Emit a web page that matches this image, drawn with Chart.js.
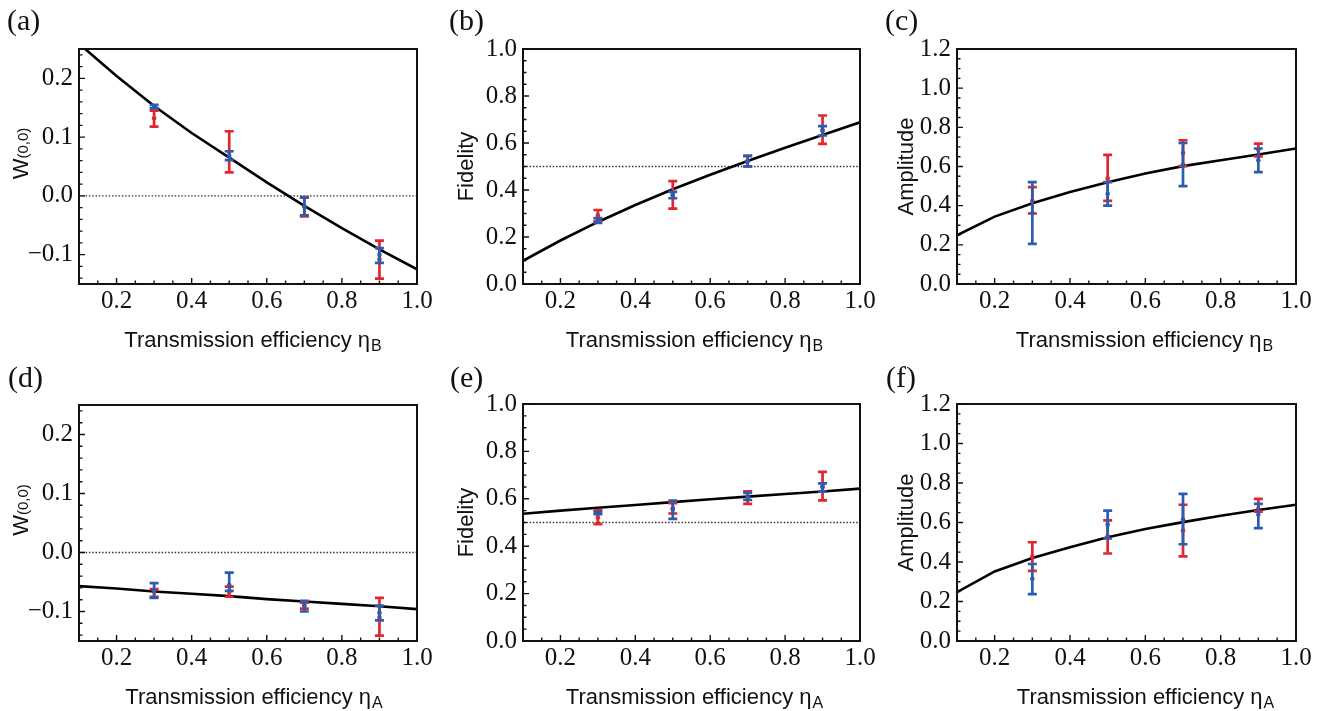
<!DOCTYPE html>
<html><head><meta charset="utf-8">
<script src="https://cdn.jsdelivr.net/npm/chart.js@4.4.0/dist/chart.umd.min.js"></script>
<style>
html,body{margin:0;padding:0;background:#fff;}
#wrap{position:relative;width:1326px;height:711px;overflow:hidden;background:#fff;}
canvas{position:absolute;}
</style></head><body><div id="wrap">
<canvas id="pa" style="left:0px;top:0px" width="442" height="355"></canvas>
<canvas id="pb" style="left:442px;top:0px" width="442" height="355"></canvas>
<canvas id="pc" style="left:884px;top:0px" width="442" height="355"></canvas>
<canvas id="pd" style="left:0px;top:355px" width="442" height="356"></canvas>
<canvas id="pe" style="left:442px;top:355px" width="442" height="356"></canvas>
<canvas id="pf" style="left:884px;top:355px" width="442" height="356"></canvas>
</div>
<script>
// ---------- data ----------
const expEta = [0.3, 0.5, 0.7, 0.9];
const theoryEta = [0.1, 0.2, 0.3, 0.4, 0.5, 0.6, 0.7, 0.8, 0.9, 1.0];

const xTicks = [0.2, 0.4, 0.6, 0.8, 1.0];
const xTickLabels = ["0.2", "0.4", "0.6", "0.8", "1.0"];
const wTicks = [-0.1, 0.0, 0.1, 0.2];
const wTickLabels = ["\u22120.1", "0.0", "0.1", "0.2"];
const fTicks = [0.0, 0.2, 0.4, 0.6, 0.8, 1.0];
const fTickLabels = ["0.0", "0.2", "0.4", "0.6", "0.8", "1.0"];
const ampTicks = [0.0, 0.2, 0.4, 0.6, 0.8, 1.0, 1.2];
const ampTickLabels = ["0.0", "0.2", "0.4", "0.6", "0.8", "1.0", "1.2"];

// (a) W(0,0) vs eta_B
const aTheory = [0.259, 0.204, 0.153, 0.107, 0.065, 0.023, -0.017, -0.055, -0.091, -0.125];
const aRedMid = [0.132, 0.075, -0.018, -0.108];
const aRedLo  = [0.118, 0.040, -0.035, -0.141];
const aRedHi  = [0.145, 0.110, -0.002, -0.076];
const aBlueMid = [0.152, 0.068, -0.018, -0.100];
const aBlueLo  = [0.149, 0.061, -0.033, -0.114];
const aBlueHi  = [0.155, 0.076, -0.003, -0.089];

// (b) Fidelity vs eta_B
const bTheory = [0.099, 0.185, 0.264, 0.336, 0.403, 0.465, 0.523, 0.580, 0.634, 0.688];
const bRedMid = [0.292, 0.380, 0.522, 0.655];
const bRedLo  = [0.268, 0.321, 0.500, 0.596];
const bRedHi  = [0.315, 0.438, 0.545, 0.717];
const bBlueMid = [0.270, 0.378, 0.522, 0.652];
const bBlueLo  = [0.260, 0.365, 0.500, 0.632];
const bBlueHi  = [0.280, 0.392, 0.545, 0.672];

// (c) Amplitude vs eta_B
const cTheory = [0.249, 0.344, 0.412, 0.470, 0.520, 0.564, 0.602, 0.632, 0.661, 0.692];
const cRedMid = [0.425, 0.539, 0.669, 0.685];
const cRedLo  = [0.360, 0.424, 0.602, 0.652];
const cRedHi  = [0.495, 0.659, 0.734, 0.717];
const cBlueMid = [0.362, 0.461, 0.610, 0.632];
const cBlueLo  = [0.205, 0.400, 0.500, 0.571];
const cBlueHi  = [0.520, 0.520, 0.720, 0.692];

// (d) W(0,0) vs eta_A
const dTheory = [-0.057, -0.061, -0.066, -0.070, -0.074, -0.079, -0.083, -0.087, -0.091, -0.096];
const dRedMid = [-0.066, -0.067, -0.090, -0.110];
const dRedLo  = [-0.075, -0.075, -0.095, -0.141];
const dRedHi  = [-0.062, -0.058, -0.085, -0.077];
const dBlueMid = [-0.065, -0.055, -0.090, -0.102];
const dBlueLo  = [-0.077, -0.065, -0.100, -0.115];
const dBlueHi  = [-0.052, -0.034, -0.082, -0.090];

// (e) Fidelity vs eta_A
const eTheory = [0.537, 0.550, 0.562, 0.574, 0.586, 0.598, 0.609, 0.620, 0.631, 0.643];
const eRedMid = [0.521, 0.560, 0.605, 0.655];
const eRedLo  = [0.493, 0.538, 0.579, 0.593];
const eRedHi  = [0.552, 0.582, 0.631, 0.714];
const eBlueMid = [0.540, 0.555, 0.607, 0.648];
const eBlueLo  = [0.535, 0.515, 0.595, 0.630];
const eBlueHi  = [0.545, 0.592, 0.625, 0.665];

// (f) Amplitude vs eta_A
const fTheory = [0.247, 0.352, 0.420, 0.475, 0.525, 0.567, 0.602, 0.634, 0.663, 0.690];
const fRedMid = [0.428, 0.530, 0.560, 0.670];
const fRedLo  = [0.355, 0.443, 0.428, 0.655];
const fRedHi  = [0.500, 0.611, 0.690, 0.720];
const fBlueMid = [0.315, 0.589, 0.615, 0.640];
const fBlueLo  = [0.237, 0.520, 0.490, 0.572];
const fBlueHi  = [0.390, 0.660, 0.745, 0.694];

// ---------- styling ----------
const RED = "#e1262e";
const BLUE = "#2c5caf";
const SERIF = '"Liberation Serif", "Times New Roman", serif';
const SANS = '"Liberation Sans", Arial, sans-serif';

const panels = [
  {id:"pa", tag:"(a)", yT:"W", yS:"(0,0)", xS:"B", th:aTheory, rm:aRedMid, rl:aRedLo, rh:aRedHi, bm:aBlueMid, bl:aBlueLo, bh:aBlueHi,
   ymin:-0.15, ymax:0.25, yt:wTicks, yl:wTickLabels, ymStep:0.02, ref:0.0,
   L:79, T:49, R:25, B:71, tagX:7, tagY:30, yTx:-57, yTy:-13, xTx:5},
  {id:"pb", tag:"(b)", yT:"Fidelity", yS:"", xS:"B", th:bTheory, rm:bRedMid, rl:bRedLo, rh:bRedHi, bm:bBlueMid, bl:bBlueLo, bh:bBlueHi,
   ymin:0, ymax:1.0, yt:fTicks, yl:fTickLabels, ymStep:0.05, ref:0.5,
   L:81, T:49, R:24, B:71, tagX:7, tagY:30, yTx:-56, yTy:0, xTx:3},
  {id:"pc", tag:"(c)", yT:"Amplitude", yS:"", xS:"B", th:cTheory, rm:cRedMid, rl:cRedLo, rh:cRedHi, bm:cBlueMid, bl:cBlueLo, bh:cBlueHi,
   ymin:0, ymax:1.2, yt:ampTicks, yl:ampTickLabels, ymStep:0.05, ref:null,
   L:73, T:49, R:30, B:71, tagX:1, tagY:30, yTx:-50, yTy:0, xTx:18},
  {id:"pd", tag:"(d)", yT:"W", yS:"(0,0)", xS:"A", th:dTheory, rm:dRedMid, rl:dRedLo, rh:dRedHi, bm:dBlueMid, bl:dBlueLo, bh:dBlueHi,
   ymin:-0.15, ymax:0.25, yt:wTicks, yl:wTickLabels, ymStep:0.02, ref:0.0,
   L:79, T:50, R:25, B:70, tagX:8, tagY:32, yTx:-57, yTy:-13, xTx:6},
  {id:"pe", tag:"(e)", yT:"Fidelity", yS:"", xS:"A", th:eTheory, rm:eRedMid, rl:eRedLo, rh:eRedHi, bm:eBlueMid, bl:eBlueLo, bh:eBlueHi,
   ymin:0, ymax:1.0, yt:fTicks, yl:fTickLabels, ymStep:0.05, ref:0.5,
   L:81, T:49, R:24, B:70, tagX:8, tagY:32, yTx:-56, yTy:0, xTx:3},
  {id:"pf", tag:"(f)", yT:"Amplitude", yS:"", xS:"A", th:fTheory, rm:fRedMid, rl:fRedLo, rh:fRedHi, bm:fBlueMid, bl:fBlueLo, bh:fBlueHi,
   ymin:0, ymax:1.2, yt:ampTicks, yl:ampTickLabels, ymStep:0.05, ref:null,
   L:73, T:49, R:30, B:70, tagX:2, tagY:32, yTx:-50, yTy:0, xTx:19}
];

// ---------- plugins ----------
const errorBarPlugin = {
  id: "errbars",
  afterDatasetDraw(chart, args) {
    const ds = chart.data.datasets[args.index];
    if (!ds.errLo) return;
    const ctx = chart.ctx, xs = chart.scales.x, ys = chart.scales.y;
    ctx.save();
    ctx.strokeStyle = ds.borderColor;
    ctx.lineWidth = 2.7;
    ctx.lineCap = "butt";
    for (let i = 0; i < ds.data.length; i++) {
      const px = xs.getPixelForValue(ds.data[i].x);
      const lo = ys.getPixelForValue(ds.errLo[i]);
      const hi = ys.getPixelForValue(ds.errHi[i]);
      ctx.beginPath();
      ctx.moveTo(px, lo); ctx.lineTo(px, hi);
      ctx.moveTo(px - 4.5, lo); ctx.lineTo(px + 4.5, lo);
      ctx.moveTo(px - 4.5, hi); ctx.lineTo(px + 4.5, hi);
      ctx.stroke();
      const pm = ys.getPixelForValue(ds.data[i].y);
      ctx.beginPath();
      ctx.fillStyle = ds.borderColor;
      ctx.arc(px, pm, 2.3, 0, Math.PI * 2);
      ctx.fill();
    }
    ctx.restore();
  }
};

const framePlugin = {
  id: "frame",
  afterDraw(chart) {
    const p = chart.options.plugins.frame;
    const ctx = chart.ctx, a = chart.chartArea, xs = chart.scales.x, ys = chart.scales.y;
    ctx.save();
    // frame
    ctx.strokeStyle = "#111";
    ctx.lineWidth = 2;
    ctx.strokeRect(a.left, a.top, a.right - a.left, a.bottom - a.top);
    // inward ticks
    ctx.lineWidth = 1.4;
    ctx.beginPath();
    for (let k = 3; k <= 19; k++) {
      const v = k * 0.05;
      const px = xs.getPixelForValue(v);
      const major = k % 4 === 0;
      ctx.moveTo(px, a.bottom); ctx.lineTo(px, a.bottom - (major ? 6 : 3.5));
    }
    const n0 = Math.ceil(p.ymin / p.ymStep - 1e-6), n1 = Math.floor(p.ymax / p.ymStep + 1e-6);
    for (let k = n0; k <= n1; k++) {
      const v = k * p.ymStep;
      const py = ys.getPixelForValue(v);
      const major = p.yt.some(t => Math.abs(t - v) < 1e-6);
      ctx.moveTo(a.left, py); ctx.lineTo(a.left + (major ? 6 : 3.5), py);
    }
    ctx.stroke();

    // panel tag
    ctx.fillStyle = "#111";
    ctx.textBaseline = "alphabetic";
    ctx.textAlign = "left";
    ctx.font = "30px " + SERIF;
    ctx.fillText(p.tag, p.tagX, p.tagY);

    // x title with subscript
    const main = "Transmission efficiency \u03b7";
    ctx.font = "22px " + SANS;
    const wMain = ctx.measureText(main).width;
    ctx.font = "16px " + SANS;
    const wSub = ctx.measureText(p.xS).width;
    const cx = (a.left + a.right) / 2 + p.xTx;
    const x0 = cx - (wMain + 1 + wSub) / 2;
    const by = a.bottom + 63;
    ctx.font = "22px " + SANS;
    ctx.fillText(main, x0, by);
    ctx.font = "16px " + SANS;
    ctx.fillText(p.xS, x0 + wMain + 1, by + 4);

    // y title (rotated)
    ctx.translate(a.left + p.yTx, (a.top + a.bottom) / 2 + p.yTy);
    ctx.rotate(-Math.PI / 2);
    ctx.textBaseline = "middle";
    ctx.font = "22px " + SANS;
    const w1 = ctx.measureText(p.yT).width;
    let w2 = 0;
    if (p.yS) { ctx.font = "15px " + SANS; w2 = ctx.measureText(p.yS).width; }
    const sx = -(w1 + w2) / 2;
    ctx.font = "22px " + SANS;
    ctx.fillText(p.yT, sx, 0);
    if (p.yS) { ctx.font = "15px " + SANS; ctx.fillText(p.yS, sx + w1, 2); }
    ctx.restore();
  }
};

function pts(xs, ys) { return xs.map((x, i) => ({x: x, y: ys[i]})); }

panels.forEach(p => {
  const datasets = [
    {label: "blue", data: pts(expEta, p.bm), errLo: p.bl, errHi: p.bh, borderColor: BLUE, backgroundColor: BLUE, pointRadius: 0, showLine: false},
    {label: "red", data: pts(expEta, p.rm), errLo: p.rl, errHi: p.rh, borderColor: RED, backgroundColor: RED, pointRadius: 0, showLine: false},
    {label: "theory", data: pts(theoryEta, p.th), showLine: true, pointRadius: 0, borderColor: "#000", borderWidth: 2.6, tension: 0, fill: false}
  ];
  if (p.ref !== null) {
    datasets.push({label: "ref", data: [{x: 0.1, y: p.ref}, {x: 1.0, y: p.ref}], showLine: true, pointRadius: 0,
      borderColor: "#333", borderWidth: 1.3, borderDash: [1.5, 1.8], fill: false});
  }
  new Chart(document.getElementById(p.id), {
    type: "scatter",
    data: {datasets: datasets},
    options: {
      responsive: false, animation: false, events: [],
      layout: {padding: {top: p.T, right: p.R, left: 0, bottom: 0}},
      plugins: {legend: {display: false}, tooltip: {enabled: false}, frame: p},
      scales: {
        x: {
          type: "linear", min: 0.1, max: 1.0,
          afterBuildTicks: s => { s.ticks = xTicks.map(v => ({value: v})); },
          ticks: {callback: (v, i) => xTickLabels[i], font: {family: SERIF, size: 25}, color: "#111", padding: 2, maxRotation: 0, autoSkip: false},
          grid: {display: false, drawTicks: false}, border: {display: false},
          afterFit: s => { s.height = p.B; s.paddingLeft = 0; s.paddingRight = 0; }
        },
        y: {
          type: "linear", min: p.ymin, max: p.ymax,
          afterBuildTicks: s => { s.ticks = p.yt.map(v => ({value: v})); },
          ticks: {callback: (v, i) => p.yl[i], font: {family: SERIF, size: 25}, color: "#111", padding: 6, autoSkip: false},
          grid: {display: false, drawTicks: false}, border: {display: false},
          afterFit: s => { s.width = p.L; s.paddingTop = 0; s.paddingBottom = 0; }
        }
      }
    },
    plugins: [errorBarPlugin, framePlugin]
  });
});
</script>
</body></html>
